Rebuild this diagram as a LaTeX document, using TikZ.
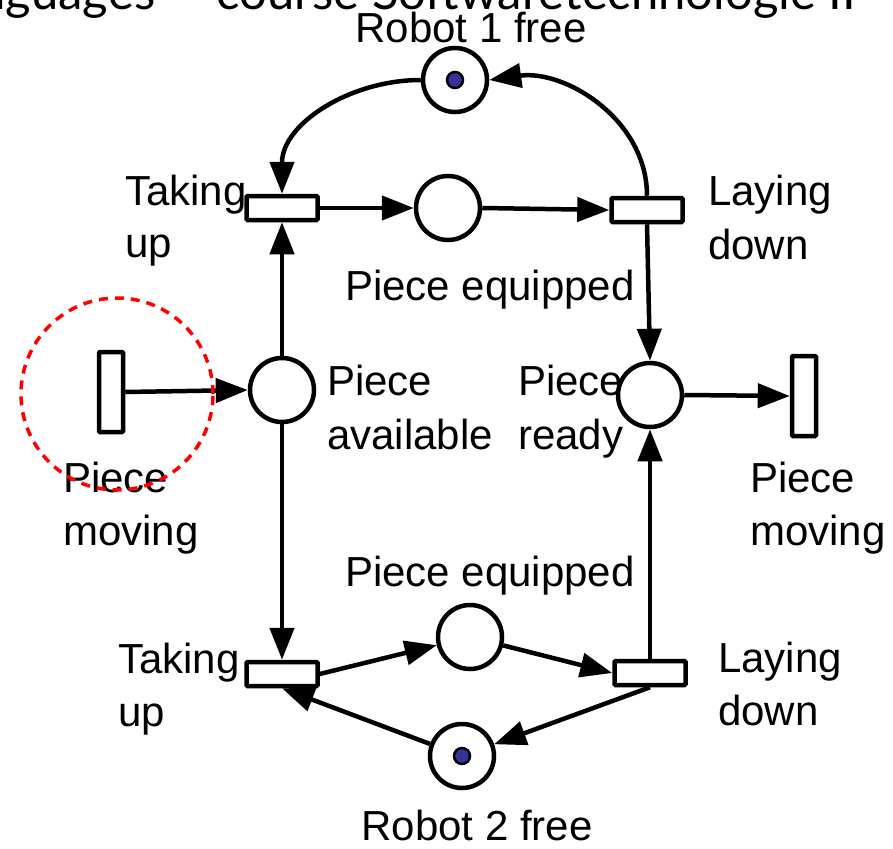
\documentclass[tikz,border=0pt]{standalone}
\usepackage{fontspec}
\setmainfont{Liberation Sans}
\newfontfamily\headfont{Lato}
\usetikzlibrary{arrows.meta}
\definecolor{tokenblue}{HTML}{333399}
\definecolor{markred}{HTML}{FF0000}

\begin{document}
\begin{tikzpicture}[x=1pt,y=-1pt,
  lbl/.style={inner sep=0pt, font=\fontsize{42}{50}\selectfont, anchor=base west},
  ctr/.style={lbl, anchor=base},
  place/.style={circle, draw, fill=white, line width=4.5pt, minimum size=64pt, inner sep=0pt},
  trans/.style={rectangle, draw, fill=white, line width=4.5pt, rounded corners=1pt,
                minimum width=71pt, minimum height=24pt, inner sep=0pt},
  vtrans/.style={trans, minimum width=24pt, minimum height=80pt},
  token/.style={circle, fill=tokenblue, draw=black, line width=2.5pt, minimum size=16pt, inner sep=0pt},
  flow/.style={line width=4.5pt, -{Triangle[length=32pt,width=24pt]}},
  focus/.style={draw=markred, line width=3.5pt, dash pattern=on 9pt off 7pt}]

\useasboundingbox (0,0) rectangle (893,848);
\clip (0,0) rectangle (893,848);

% slide header, cut off by the page edge
\node[inner sep=0pt, anchor=base east, font=\headfont\fontsize{49}{58}\selectfont]
  (header) at (856,10) {Languages -- course Softwaretechnologie II};

% labels
\node[ctr] (lR1) at (471,43) {Robot 1 free};
\node[ctr] (lR2) at (477,840) {Robot 2 free};
\node[lbl] (lTU1a) at (125,205) {Taking};
\node[lbl] (lTU1b) at (125,257) {up};
\node[lbl] (lLD1a) at (708,205) {Laying};
\node[lbl] (lLD1b) at (708,259) {down};
\node[ctr] (lPE1) at (490,300) {Piece equipped};
\node[lbl] (lPAa) at (327,395) {Piece};
\node[lbl] (lPAb) at (327,449) {available};
\node[lbl] (lPRa) at (518,395) {Piece};
\node[lbl] (lPRb) at (518,449) {ready};
\node[lbl] (lPM1a) at (63,492) {Piece};
\node[lbl] (lPM1b) at (63,545) {moving};
\node[lbl] (lPM2a) at (750,492) {Piece};
\node[lbl] (lPM2b) at (750,545) {moving};
\node[ctr] (lPE2) at (490,586) {Piece equipped};
\node[lbl] (lTU2a) at (118,673) {Taking};
\node[lbl] (lTU2b) at (118,726) {up};
\node[lbl] (lLD2a) at (718,672) {Laying};
\node[lbl] (lLD2b) at (718,725) {down};

% places
\node[place] (r1) at (455,80) {};
\node[place] (pe1) at (448,208) {};
\node[place] (pa) at (282,390) {};
\node[place] (pr) at (650,395) {};
\node[place] (pe2) at (470,637) {};
\node[place] (r2) at (462,756) {};

% tokens
\node[token] (k1) at (r1) {};
\node[token] (k2) at (r2) {};

% transitions
\node[trans] (tu1) at (282,208) {};
\node[trans] (ld1) at (647,210) {};
\node[trans] (tu2) at (282,674) {};
\node[trans] (ld2) at (650,673) {};
\node[vtrans] (pm1) at (111,392) {};
\node[vtrans] (pm2) at (804,396) {};

% arcs
\draw[flow] (r1.west) to[out=180,in=90] (tu1.north);
\draw[flow] (ld1.north) to[out=90,in=8] (r1.east);
\draw[flow] (tu1.east) -- (pe1.west);
\draw[flow] (pe1.east) -- (ld1.west);
\draw[flow] (ld1.south) -- (pr.north);
\draw[flow] (pa.north) -- (tu1.south);
\draw[flow] (pa.south) -- (tu2.north);
\draw[flow] (pm1.east) -- (pa.west);
\draw[flow] (pr.east) -- (pm2.west);
\draw[flow] (tu2.east) -- (pe2);
\draw[flow] (pe2) -- (ld2.west);
\draw[flow] (ld2.north) -- (pr.south);
\draw[flow] (ld2.south) -- (r2);
\draw[flow] (r2) -- (tu2.south);

% highlight around the entry transition
\node[focus, circle, minimum size=192pt, inner sep=0pt] (mark) at (117,394) {};

\end{tikzpicture}
\end{document}
